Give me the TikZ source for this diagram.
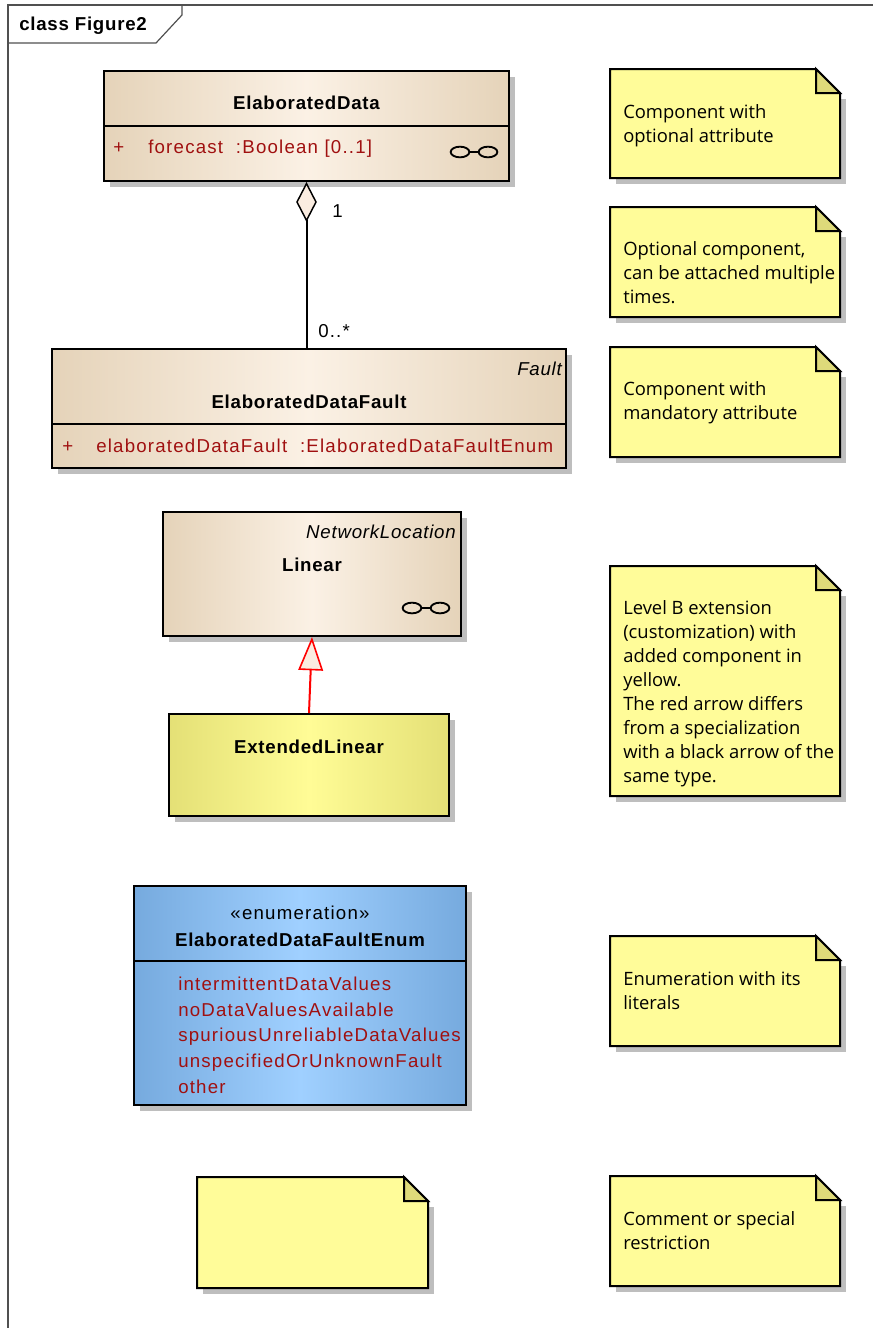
\documentclass[tikz,border=0pt]{standalone}
\usepackage{fontspec}
\setmainfont{Liberation Sans}
\newfontfamily\clsfont[LetterSpace=6.5]{Liberation Sans}
\newfontfamily\clsbold[LetterSpace=4]{Liberation Sans Bold}
\newfontfamily\clsital[LetterSpace=4]{Liberation Sans Italic}
\newfontfamily\notefont{Open Sans}
\usetikzlibrary{arrows.meta,fit}

\definecolor{tanedge}{RGB}{229,211,185}
\definecolor{tanmid}{RGB}{251,241,229}
\definecolor{yeledge}{RGB}{228,224,118}
\definecolor{yelmid}{RGB}{255,252,150}
\definecolor{bluedge}{RGB}{118,170,222}
\definecolor{blumid}{RGB}{160,208,255}
\definecolor{notefill}{RGB}{255,252,153}
\definecolor{foldfill}{RGB}{222,218,122}
\definecolor{shadowgray}{RGB}{190,190,190}
\definecolor{attrred}{RGB}{160,16,16}
\definecolor{framegray}{RGB}{80,80,80}
\definecolor{headfill}{RGB}{250,236,224}

% class box: shadow + shaded rectangle fitted to the given corners
\newcommand\umlbox[6]{%
  \fill[boxshadow] (#2+6,#3+6) rectangle (#4+6,#5+6);
  \node[#6, fit={(#2,#3) (#4,#5)}] (#1) {};}

% note with folded corner
\newcommand\umlnote[4]{%
  \fill[boxshadow] (#1+6,#2+30) -- (#3+6,#2+30) -- (#3+6,#4+6) -- (#1+6,#4+6) -- cycle;
  \filldraw[noteshape] (#1,#2) -- (#3-24,#2) -- (#3,#2+24) -- (#3,#4) -- (#1,#4) -- cycle;
  \filldraw[foldshape] (#3-24,#2) -- (#3-24,#2+24) -- (#3,#2+24) -- cycle;}

% "o-o" association icon
\newcommand\linkicon[2]{%
  \draw[line width=1.4pt] (#1-14,#2) ellipse [x radius=7pt, y radius=4pt]
    (#1+14,#2) ellipse [x radius=7pt, y radius=4pt]
    (#1-4.7,#2) -- (#1+4.7,#2);}

\newcommand\notestrut{\rule{0pt}{13pt}}

\begin{document}
\begin{tikzpicture}[x=0.75pt,y=-0.75pt,
  boxshadow/.style={fill=shadowgray},
  classbox/.style={draw=black, line width=1.5pt, inner sep=0pt,
    left color=tanedge, right color=tanedge, middle color=tanmid},
  extbox/.style={draw=black, line width=1.5pt, inner sep=0pt,
    left color=yeledge, right color=yeledge, middle color=yelmid},
  enumbox/.style={draw=black, line width=1.5pt, inner sep=0pt,
    left color=bluedge, right color=bluedge, middle color=blumid},
  noteshape/.style={fill=notefill, draw=black, line width=1.5pt, line join=miter},
  foldshape/.style={fill=foldfill, draw=black, line width=1.5pt, line join=miter},
  divider/.style={draw=black, line width=1.5pt},
  title/.style={inner sep=0pt, font=\clsbold\fontsize{14pt}{17pt}\selectfont},
  stereo/.style={inner sep=0pt, font=\clsital\fontsize{14pt}{17pt}\selectfont},
  attr/.style={inner sep=0pt, text=attrred, font=\clsfont\fontsize{14pt}{17pt}\selectfont},
  plain/.style={inner sep=0pt, font=\clsfont\fontsize{14pt}{17pt}\selectfont},
  notetext/.style={inner sep=0pt, align=left, anchor=north west,
    font=\notefont\fontsize{13.8pt}{18pt}\selectfont},
]
\useasboundingbox (0,0) rectangle (873,1328);

% diagram frame with its name tab
\draw[framegray, line width=0.9pt] (873,5) -- (8,5) -- (8,1328);
\draw[framegray, line width=0.9pt] (8,43) -- (156,43) -- (182,15) -- (182,5);
\node[title, anchor=base west] (frameT) at (19,30) {class Figure2};

% ElaboratedData
\umlbox{ed}{104}{71}{509}{181}{classbox}
\draw[divider] (ed.west |- 0,126) -- (ed.east |- 0,126);
\node[title, anchor=base] (edT) at (306.5,109) {ElaboratedData};
\node[attr, anchor=base west] (edP) at (113,153) {+};
\node[attr, anchor=base west] (edA) at (148,153) {forecast\ \ :Boolean [0..1]};
\linkicon{474}{152}

% ElaboratedDataFault
\umlbox{edf}{52}{349}{566}{468}{classbox}
\draw[divider] (edf.west |- 0,424) -- (edf.east |- 0,424);
\node[stereo, anchor=base east] (edfS) at (562,375) {Fault};
\node[title, anchor=base] (edfT) at (309,408) {ElaboratedDataFault};
\node[attr, anchor=base west] (edfP) at (62,452) {+};
\node[attr, anchor=base west] (edfA) at (96,452) {elaboratedDataFault\ \ :ElaboratedDataFaultEnum};

% aggregation
\draw[line width=1.5pt, -{Diamond[length=30pt, width=15.5pt, fill=headfill, line width=1.1pt]}]
  (ed.south |- edf.north) -- (ed.south);
\node[plain, anchor=base west] (mulA) at (332,217) {1};
\node[plain, anchor=base west] (mulB) at (318,337) {0..*};

% Linear
\umlbox{lin}{163}{512}{461}{636}{classbox}
\node[stereo, anchor=base east] (linS) at (456,538) {NetworkLocation};
\node[title, anchor=base] (linT) at (312,571) {Linear};
\linkicon{426}{608}

% ExtendedLinear
\umlbox{el}{169}{714}{449}{816}{extbox}
\node[title, anchor=base] (elT) at (309,753) {ExtendedLinear};

% red generalization
\draw[red, line width=1.5pt, -{Triangle[length=25pt, width=18.5pt, fill=headfill, line width=1.2pt]}]
  (el.north) -- (lin.south);

% enumeration
\umlbox{en}{134}{886}{466}{1105}{enumbox}
\draw[divider] (en.west |- 0,961) -- (en.east |- 0,961);
\node[plain, anchor=base] (enS) at (300,919) {«enumeration»};
\node[title, anchor=base] (enT) at (300,946) {ElaboratedDataFaultEnum};
\node[attr, align=left, anchor=north west, font=\clsfont\fontsize{14pt}{19.3pt}\selectfont]
  (enL) at (178,990-17.3) {\notestrut intermittentDataValues\\noDataValuesAvailable\\
  spuriousUnreliableDataValues\\unspecifiedOrUnknownFault\\other};

% empty note
\umlnote{197}{1177}{428}{1288}

% explanatory notes
\umlnote{610}{69}{840}{178}
\node[notetext] (n1) at (623,118-17.3) {\notestrut Component with\\optional attribute};
\umlnote{610}{207}{840}{317}
\node[notetext] (n2) at (623,255-17.3) {\notestrut Optional component,\\can be attached multiple\\times.};
\umlnote{610}{347}{840}{457}
\node[notetext] (n3) at (623,395-17.3) {\notestrut Component with\\mandatory attribute};
\umlnote{610}{566}{840}{796}
\node[notetext] (n4) at (623,614-17.3) {\notestrut Level B extension\\(customization) with\\added component in\\yellow.\\The red arrow differs\\from a specialization\\with a black arrow of the\\same type.};
\umlnote{610}{936}{840}{1046}
\node[notetext] (n5) at (623,985-17.3) {\notestrut Enumeration with its\\literals};
\umlnote{610}{1176}{840}{1286}
\node[notetext] (n6) at (623,1225-17.3) {\notestrut Comment or special\\restriction};
\end{tikzpicture}
\end{document}
